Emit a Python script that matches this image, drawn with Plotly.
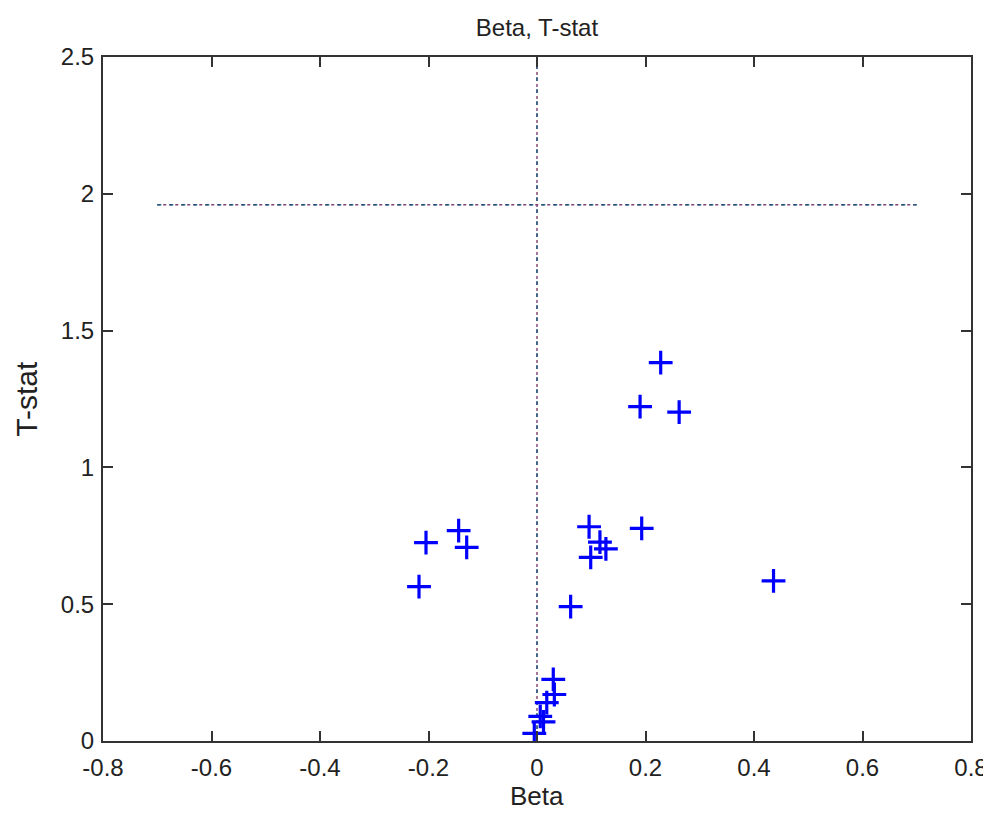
import plotly.graph_objects as go

beta = [-0.2046, -0.1444, -0.1296, -0.2175,
        0.062, 0.030, 0.032, 0.018, 0.006, 0.012, -0.005,
        0.228, 0.190, 0.262, 0.096, 0.193, 0.116, 0.127, 0.099, 0.436]
tstat = [0.725, 0.769, 0.708, 0.564,
         0.491, 0.225, 0.170, 0.140, 0.090, 0.070, 0.028,
         1.383, 1.222, 1.202, 0.783, 0.777, 0.727, 0.702, 0.671, 0.585]

crit_x = [-0.7, 0.7]
crit_y = [1.96, 1.96]
zero_x = [0, 0]
zero_y = [0, 2.5]

xticks = [-0.8, -0.6, -0.4, -0.2, 0, 0.2, 0.4, 0.6, 0.8]
xticktext = ["-0.8", "-0.6", "-0.4", "-0.2", "0", "0.2", "0.4", "0.6", "0.8"]
yticks = [0, 0.5, 1, 1.5, 2, 2.5]
yticktext = ["0", "0.5", "1", "1.5", "2", "2.5"]

fig = go.Figure()
for xs, ys in [(crit_x, crit_y), (zero_x, zero_y)]:
    fig.add_trace(go.Scatter(x=xs, y=ys, mode="lines",
                             line=dict(color="#804070", width=1.4, dash="dot"),
                             hoverinfo="skip", showlegend=False))
    fig.add_trace(go.Scatter(x=xs, y=ys, mode="lines",
                             line=dict(color="#205a80", width=1.4, dash="4px,8px"),
                             hoverinfo="skip", showlegend=False))

fig.add_trace(go.Scatter(x=beta, y=tstat, mode="markers",
                         marker=dict(symbol="cross-thin-open", size=17, color="#0000ff",
                                     line=dict(color="#0000ff", width=3.2)),
                         showlegend=False))

font = "Liberation Sans, Arial, sans-serif"
axis_common = dict(showgrid=False, zeroline=False, showline=True, mirror="ticks",
                   linecolor="#333333", linewidth=2, ticks="inside", ticklen=10,
                   tickcolor="#333333", tickwidth=1.5, automargin=False,
                   ticklabeloverflow="allow",
                   tickfont=dict(family=font, size=24, color="#222222"))

fig.update_layout(
    width=983, height=803,
    margin=dict(l=95, r=20, t=49, b=70),
    plot_bgcolor="white", paper_bgcolor="white",
    title=dict(text="Beta, T-stat", x=0.5, xanchor="center", xref="paper",
               y=0.975, yanchor="middle",
               font=dict(family=font, size=24, color="#222222")),
    xaxis=dict(range=[-0.8, 0.8], tickvals=xticks, ticktext=xticktext,
               ticklabelstandoff=4, **axis_common),
    yaxis=dict(range=[0, 2.5], tickvals=yticks, ticktext=yticktext,
               ticklabelstandoff=2, **axis_common),
    annotations=[
        dict(text="Beta", xref="paper", yref="paper", x=0.5, y=-0.08,
             xanchor="center", yanchor="middle", showarrow=False,
             font=dict(family=font, size=26, color="#222222")),
        dict(text="T-stat", xref="paper", yref="paper", x=-0.089, y=0.5,
             xanchor="center", yanchor="middle", showarrow=False, textangle=-90,
             font=dict(family=font, size=30, color="#222222")),
    ],
)

fig.write_html("out.html")
